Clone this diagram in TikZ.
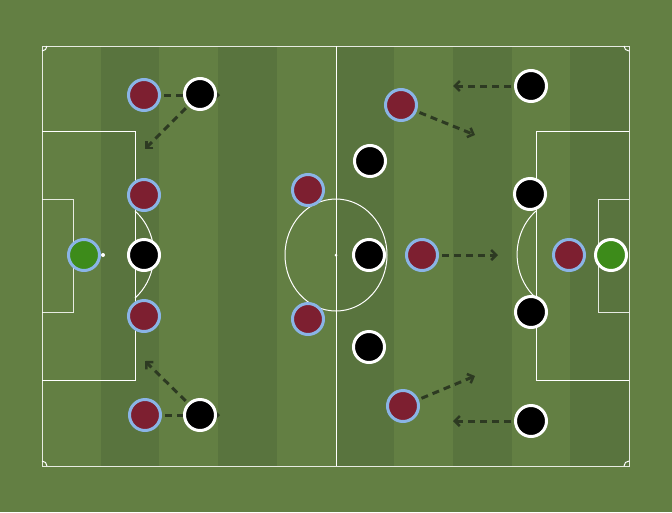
\documentclass[tikz,border=0pt]{standalone}
\usetikzlibrary{arrows.meta}

\definecolor{grass}{RGB}{99,127,67}
\definecolor{stripe}{RGB}{89,116,62}
\definecolor{maroon}{RGB}{125,31,48}
\definecolor{sky}{RGB}{138,180,230}
\definecolor{keeper}{RGB}{61,139,26}
\definecolor{runline}{RGB}{45,58,34}

\tikzset{
  line/.style={white, line width=1pt},
  home/.style={circle, draw=sky, fill=maroon, line width=3pt, minimum size=31pt, inner sep=0pt},
  away/.style={circle, draw=white, fill=black, line width=3pt, minimum size=31pt, inner sep=0pt},
  run/.style={runline, line width=3pt, dash pattern=on 7pt off 5pt, shorten <=3pt,
    -{Straight Barb[length=5pt,width=10pt,line width=2.5pt]}}
}

\begin{document}
\begin{tikzpicture}[x=1pt, y=-1pt]
      % Draw the grass
      \fill[grass] (0, 0) rectangle (672, 512);
      \useasboundingbox (0, 0) rectangle (672, 512);
      \foreach \i in {1, 3, 5, 7, 9}
        \fill[stripe] (42 + 58.7*\i, 46) rectangle (42 + 58.7*\i + 58.7, 466);
      % Draw the lines
      \draw[line, opacity=0.85] (42, 46) rectangle (629, 466);
      \draw[line] (336, 46) -- (336, 466);
      \draw[line] (336, 255) ellipse[x radius=51, y radius=56];
      \fill[white] (336, 255) circle[radius=1.5];
      \draw[line] (42, 131) -- (135, 131) -- (135, 380) -- (42, 380);
      \draw[line, opacity=0.85] (42, 199) -- (73, 199) -- (73, 312) -- (42, 312);
      \draw[line] (629, 131) -- (536, 131) -- (536, 380) -- (629, 380);
      \draw[line, opacity=0.85] (629, 199) -- (598, 199) -- (598, 312) -- (629, 312);
      \fill[white] (103, 255) circle[radius=2];
      \fill[white] (568, 255) circle[radius=2];
      \draw[line] (135, 211) arc[start angle=-51, end angle=51, x radius=51, y radius=56];
      \draw[line] (536, 211) arc[start angle=231, end angle=129, x radius=51, y radius=56];
      % Draw the corners
      \draw[line] (47, 46) arc[start angle=0, end angle=90, radius=5];
      \draw[line] (624, 46) arc[start angle=180, end angle=90, radius=5];
      \draw[line] (47, 466) arc[start angle=0, end angle=-90, radius=5];
      \draw[line] (624, 466) arc[start angle=180, end angle=270, radius=5];
      % Draw the home side
      \node[home, fill=keeper] (hGK) at (84, 255) {};
      \node[home] (hLB) at (144, 95) {};
      \node[home] (hLCB) at (144, 195) {};
      \node[home] (hRCB) at (144, 316) {};
      \node[home] (hRB) at (145, 415) {};
      \node[home] (hLM) at (308, 190) {};
      \node[home] (hRM) at (308, 319) {};
      \node[home] (hLW) at (401, 105) {};
      \node[home] (hAM) at (422, 255) {};
      \node[home] (hRW) at (403, 406) {};
      \node[home] (hST) at (569, 255) {};
      % Draw the runs of the home side
      \coordinate (t1) at (220, 95);
      \coordinate (t2) at (220, 415);
      \coordinate (t3) at (475, 135);
      \coordinate (t4) at (498, 255);
      \coordinate (t5) at (475, 376);
      \draw[run] (hLB) -- (t1);
      \draw[run] (hRB) -- (t2);
      \draw[run] (hLW) -- (t3);
      \draw[run] (hAM) -- (t4);
      \draw[run] (hRW) -- (t5);
      % Draw the away side
      \node[away] (aLW) at (200, 94) {};
      \node[away] (aST) at (144, 255) {};
      \node[away] (aRW) at (200, 415) {};
      \node[away] (aLM) at (370, 161) {};
      \node[away] (aCM) at (369, 255) {};
      \node[away] (aRM) at (369, 347) {};
      \node[away] (aLB) at (531, 86) {};
      \node[away] (aLCB) at (530, 194) {};
      \node[away] (aRCB) at (531, 312) {};
      \node[away] (aRB) at (531, 421) {};
      \node[away, fill=keeper] (aGK) at (611, 255) {};
      % Draw the runs of the away side
      \coordinate (t6) at (145, 149);
      \coordinate (t7) at (145, 361);
      \coordinate (t8) at (453, 86);
      \coordinate (t9) at (453, 421);
      \draw[run] (aLW) -- (t6);
      \draw[run] (aRW) -- (t7);
      \draw[run] (aLB) -- (t8);
      \draw[run] (aRB) -- (t9);
\end{tikzpicture}
\end{document}
